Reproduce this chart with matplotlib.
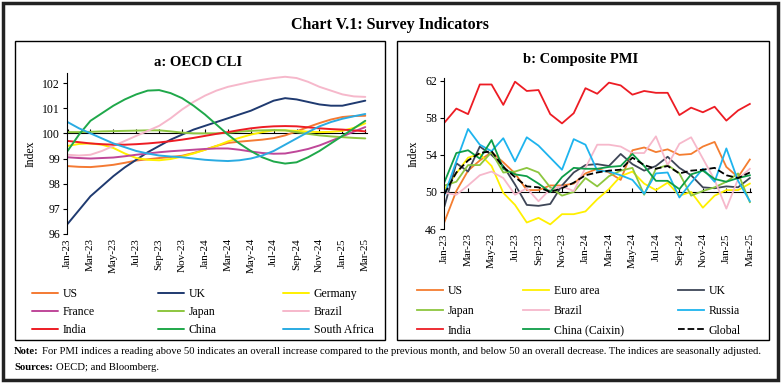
import numpy as np
import matplotlib
matplotlib.use("Agg")
import matplotlib.pyplot as plt
from matplotlib.patches import Rectangle

plt.rcParams['font.family'] = ['Liberation Serif', 'DejaVu Serif']

months = ["Jan-23", "Feb-23", "Mar-23", "Apr-23", "May-23", "Jun-23", "Jul-23", "Aug-23", "Sep-23",
          "Oct-23", "Nov-23", "Dec-23", "Jan-24", "Feb-24", "Mar-24", "Apr-24", "May-24", "Jun-24",
          "Jul-24", "Aug-24", "Sep-24", "Oct-24", "Nov-24", "Dec-24", "Jan-25", "Feb-25", "Mar-25"]

# a: OECD CLI
cli_us = [98.7, 98.67, 98.66, 98.7, 98.75, 98.83, 98.92, 98.97, 99.02, 99.06, 99.11, 99.22, 99.35, 99.5,
          99.62, 99.67, 99.71, 99.75, 99.81, 99.92, 100.08, 100.25, 100.41, 100.55, 100.65, 100.69, 100.7]
cli_uk = [96.4, 96.95, 97.5, 97.9, 98.3, 98.65, 98.95, 99.25, 99.5, 99.75, 99.95, 100.15, 100.3, 100.45,
          100.6, 100.75, 100.9, 101.1, 101.3, 101.4, 101.35, 101.25, 101.15, 101.1, 101.1, 101.2, 101.3]
cli_germany = [99.5, 99.58, 99.6, 99.55, 99.42, 99.2, 99.02, 98.95, 98.93, 98.98, 99.08, 99.2, 99.35, 99.5,
               99.68, 99.82, 99.95, 100.05, 100.12, 100.12, 100.1, 100.07, 100.05, 100.06, 100.1, 100.22, 100.4]
cli_france = [99.05, 99.02, 99.0, 99.02, 99.04, 99.09, 99.15, 99.2, 99.25, 99.29, 99.32, 99.35, 99.38, 99.4,
              99.4, 99.35, 99.28, 99.22, 99.19, 99.2, 99.28, 99.38, 99.52, 99.7, 99.88, 100.07, 100.25]
cli_japan = [100.05, 100.05, 100.06, 100.08, 100.09, 100.1, 100.11, 100.12, 100.12, 100.08, 100.03, 100.0,
             100.0, 100.0, 100.02, 100.07, 100.1, 100.12, 100.13, 100.12, 100.05, 99.98, 99.92, 99.88,
             99.85, 99.82, 99.8]
cli_brazil = [99.15, 99.12, 99.15, 99.3, 99.5, 99.7, 99.9, 100.1, 100.3, 100.6, 100.95, 101.25, 101.5, 101.7,
              101.85, 101.95, 102.05, 102.13, 102.2, 102.25, 102.2, 102.05, 101.85, 101.7, 101.55, 101.47, 101.45]
cli_india = [99.7, 99.65, 99.6, 99.57, 99.55, 99.55, 99.57, 99.6, 99.64, 99.69, 99.75, 99.82, 99.9, 99.98,
             100.05, 100.13, 100.2, 100.25, 100.28, 100.29, 100.28, 100.24, 100.2, 100.17, 100.15, 100.12, 100.08]
cli_china = [99.3, 99.95, 100.5, 100.8, 101.1, 101.35, 101.55, 101.7, 101.72, 101.6, 101.4, 101.1, 100.75,
             100.35, 99.95, 99.6, 99.3, 99.05, 98.88, 98.8, 98.85, 99.05, 99.3, 99.6, 99.9, 100.2, 100.5]
cli_safrica = [100.45, 100.2, 100.0, 99.8, 99.6, 99.45, 99.3, 99.2, 99.12, 99.08, 99.05, 99.0, 98.95, 98.92,
               98.9, 98.93, 99.0, 99.12, 99.3, 99.55, 99.8, 100.05, 100.28, 100.45, 100.58, 100.68, 100.77]

# b: Composite PMI
pmi_us = [46.8, 50.1, 52.3, 53.4, 54.3, 53.2, 52.0, 50.2, 50.2, 50.7, 50.7, 50.9, 52.0, 52.5, 52.1, 51.3,
          54.5, 54.8, 54.3, 54.6, 54.0, 54.1, 54.9, 55.4, 52.7, 51.6, 53.5]
pmi_euro = [50.3, 52.0, 53.7, 54.1, 52.8, 49.9, 48.6, 46.7, 47.2, 46.5, 47.6, 47.6, 47.9, 49.2, 50.3, 51.7,
            52.2, 50.9, 50.2, 51.0, 49.6, 50.0, 48.3, 49.6, 50.2, 50.2, 50.9]
pmi_uk = [48.5, 53.1, 52.2, 54.9, 54.0, 52.8, 50.8, 48.6, 48.5, 48.7, 50.7, 52.1, 52.9, 53.0, 52.8, 54.1,
          53.0, 52.3, 52.8, 53.8, 52.6, 51.8, 50.5, 50.4, 50.6, 50.5, 51.5]
pmi_japan = [50.7, 51.1, 52.9, 52.9, 54.3, 52.1, 52.2, 52.6, 52.1, 50.5, 49.6, 50.0, 51.5, 50.6, 51.7, 52.3,
             52.6, 49.7, 52.5, 52.9, 52.0, 49.6, 50.1, 50.5, 51.1, 52.0, 48.9]
pmi_brazil = [49.9, 49.7, 50.7, 51.8, 52.2, 51.5, 49.7, 50.4, 49.0, 50.3, 50.6, 50.1, 52.6, 55.1, 55.1, 54.9,
              54.2, 54.2, 56.0, 52.9, 55.2, 55.9, 53.6, 51.3, 48.2, 51.4, 52.5]
pmi_russia = [49.7, 53.3, 56.8, 55.1, 54.4, 55.8, 53.3, 55.9, 55.0, 53.7, 52.4, 55.7, 55.1, 52.3, 52.2, 51.8,
              51.3, 49.8, 52.0, 52.1, 49.4, 51.0, 52.5, 51.1, 54.7, 51.2, 49.0]
pmi_india = [57.5, 59.0, 58.4, 61.6, 61.6, 59.4, 61.9, 60.9, 61.0, 58.4, 57.4, 58.5, 61.2, 60.6, 61.8, 61.5,
             60.5, 60.9, 60.7, 60.7, 58.3, 59.1, 58.6, 59.2, 57.7, 58.8, 59.5]
pmi_china = [51.1, 54.2, 54.5, 53.6, 55.6, 52.5, 51.9, 51.7, 50.9, 50.0, 51.6, 52.6, 52.5, 52.5, 52.7, 52.8,
             54.1, 52.8, 51.2, 51.2, 50.3, 51.9, 52.3, 51.4, 51.1, 51.5, 51.8]
pmi_global = [49.8, 52.1, 53.4, 54.2, 54.4, 52.7, 51.6, 50.6, 50.5, 50.0, 50.4, 51.0, 51.8, 52.1, 52.3, 52.4,
              53.7, 52.9, 52.5, 52.8, 52.0, 52.3, 52.4, 52.6, 51.8, 51.5, 52.1]

W, H = 781, 383
fig = plt.figure(figsize=(W / 100, H / 100), dpi=100)
x = np.arange(len(months))


def fx(px):
    return px / W


def fy(py):
    return 1 - py / H


# frames
fig.patches.append(Rectangle((fx(3), fy(380)), fx(775), 377 / H, transform=fig.transFigure,
                             fill=False, lw=2.5, ec='#222222'))
fig.patches.append(Rectangle((fx(15), fy(340)), fx(370), 299 / H, transform=fig.transFigure,
                             fill=False, lw=1.0, ec='black'))
fig.patches.append(Rectangle((fx(397), fy(340)), fx(372), 299 / H, transform=fig.transFigure,
                             fill=False, lw=1.0, ec='black'))

fig.text(fx(390), fy(25), "Chart V.1: Survey Indicators", ha='center', va='center',
         fontsize=11.5, fontweight='bold')
fig.text(fx(198), fy(63), "a: OECD CLI", ha='center', va='center', fontsize=10.5, fontweight='bold')
fig.text(fx(581), fy(60), "b: Composite PMI", ha='center', va='center', fontsize=10.5, fontweight='bold')


def style_axes(ax, cross, ticks, ylim, xlim):
    ax.set_xlim(*xlim)
    ax.set_ylim(*ylim)
    ax.set_yticks(ticks)
    ax.spines['top'].set_visible(False)
    ax.spines['right'].set_visible(False)
    ax.spines['bottom'].set_position(('data', cross))
    ax.spines['bottom'].set_zorder(1)
    ax.set_xticks(x[::2])
    ax.tick_params(axis='x', direction='in', length=3, labelbottom=False)
    ax.tick_params(axis='y', direction='out', length=3, labelsize=8.5, pad=2)
    ax.set_ylabel("Index", fontsize=8.5, labelpad=4)
    sec = ax.secondary_xaxis('bottom')
    sec.set_xticks(x[::2])
    sec.set_xticklabels(months[::2], rotation=90, fontsize=8)
    sec.tick_params(length=0, pad=3)
    sec.spines['bottom'].set_visible(False)


def column_legends(ax, handles, labels, xs, top, fs, spacing):
    for i, xp in enumerate(xs):
        leg = ax.legend(handles[i::3], labels[i::3], loc='upper left', bbox_to_anchor=(fx(xp), top),
                        bbox_transform=fig.transFigure, frameon=False, fontsize=fs, borderpad=0,
                        borderaxespad=0, handlelength=2.2, handletextpad=0.4, labelspacing=spacing)
        if i < len(xs) - 1:
            ax.add_artist(leg)


# panel a
ax1 = fig.add_axes([fx(67), fy(234), fx(300), (234 - 73) / H])
cli = [("US", cli_us, '#F47A33'), ("UK", cli_uk, '#1F3A70'), ("Germany", cli_germany, '#FFF000'),
       ("France", cli_france, '#BF4799'), ("Japan", cli_japan, '#8DC63F'), ("Brazil", cli_brazil, '#F6B8CB'),
       ("India", cli_india, '#ED1C24'), ("China", cli_china, '#1FA84A'), ("South Africa", cli_safrica, '#2AABE2')]
h1 = []
for name, vals, col in cli:
    ln, = ax1.plot(x, vals, color=col, lw=1.4, solid_capstyle='round')
    h1.append(ln)
style_axes(ax1, 100, [96, 97, 98, 99, 100, 101, 102], (96, 102.4), (-0.05, 26.15))
column_legends(ax1, h1, [c[0] for c in cli], [32, 158, 283], fy(288), 8.5, 0.52)

# panel b
ax2 = fig.add_axes([fx(444), fy(229), fx(307), (229 - 78) / H])
pmi = [("US", pmi_us, '#F47D30', '-'), ("Euro area", pmi_euro, '#FFF000', '-'),
       ("UK", pmi_uk, '#3E4657', '-'), ("Japan", pmi_japan, '#8DC63F', '-'),
       ("Brazil", pmi_brazil, '#F6B8CB', '-'), ("Russia", pmi_russia, '#1EB4EE', '-'),
       ("India", pmi_india, '#ED1C24', '-'), ("China (Caixin)", pmi_china, '#0E9D48', '-'),
       ("Global", pmi_global, 'black', '--')]
h2 = []
for name, vals, col, ls in pmi:
    ln, = ax2.plot(x, vals, color=col, lw=1.3, ls=ls)
    h2.append(ln)
style_axes(ax2, 50, [46, 50, 54, 58, 62], (46, 62.3), (-0.05, 26.1))
column_legends(ax2, h2, [p[0] for p in pmi], [417, 523, 678], fy(285), 8.5, 0.66)

# notes
t1 = fig.text(fx(14), fy(352), "Note:", fontsize=7.7, fontweight='bold', va='center')
fig.canvas.draw()
ax1.annotate("For PMI indices a reading above 50 indicates an overall increase compared to the previous "
             "month, and below 50 an overall decrease. The indices are seasonally adjusted.",
             xy=(1, 0), xycoords=t1, xytext=(2.5, 0), textcoords='offset points', fontsize=7.7,
             va='bottom', annotation_clip=False)
t2 = fig.text(fx(14), fy(367), "Sources:", fontsize=7.7, fontweight='bold', va='center')
ax1.annotate("OECD; and Bloomberg.", xy=(1, 0), xycoords=t2, xytext=(2.5, 0), textcoords='offset points',
             fontsize=7.7, va='bottom', annotation_clip=False)

fig.savefig("out.png", dpi=100)
